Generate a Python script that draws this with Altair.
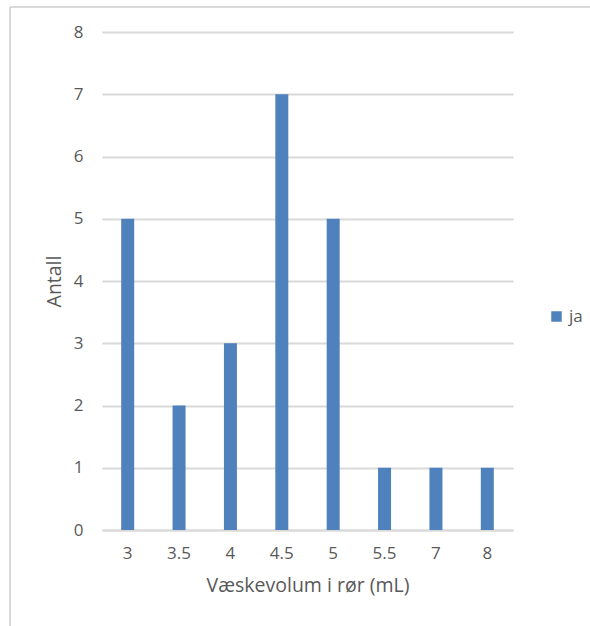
import altair as alt
import pandas as pd

# Fluid volume per tube (mL) and count of tubes
volumes = ["3", "3.5", "4", "4.5", "5", "5.5", "7", "8"]
counts = [5, 2, 3, 7, 5, 1, 1, 1]
series = ["ja"] * len(volumes)
y_ticks = [0, 1, 2, 3, 4, 5, 6, 7, 8]

df = pd.DataFrame({"volum": volumes, "antall": counts, "serie": series})

FONT = "Open Sans"
TEXT = "#595959"
GRID = "#D9D9D9"
BLUE = "#4F81BD"

bars = alt.Chart(df).mark_bar(size=13).encode(
    x=alt.X(
        "volum:N",
        sort=volumes,
        scale=alt.Scale(paddingInner=0, paddingOuter=0),
        axis=alt.Axis(
            title="Væskevolum i rør (mL)",
            labelAngle=0,
            labelPadding=15,
            titlePadding=15,
            ticks=False,
            domainColor=GRID,
            domainWidth=2,
        ),
    ),
    y=alt.Y(
        "antall:Q",
        scale=alt.Scale(domain=[0, 8], nice=False),
        axis=alt.Axis(
            title="Antall",
            values=y_ticks,
            labelOverlap=False,
            ticks=False,
            domain=False,
            labelPadding=19,
            titlePadding=9,
            gridColor=GRID,
            gridWidth=2,
        ),
    ),
    color=alt.Color(
        "serie:N",
        scale=alt.Scale(domain=["ja"], range=[BLUE]),
        legend=alt.Legend(
            title=None,
            orient="none",
            legendX=446,
            legendY=276,
            symbolType="square",
            symbolSize=110,
            symbolStrokeWidth=0,
            labelFontSize=17,
            labelColor=TEXT,
            labelFont=FONT,
        ),
    ),
)

# Outer frame of the chart (top and left edges)
frame_top = alt.Chart(df).mark_rule(color=GRID, strokeWidth=2).encode(
    x=alt.value(-92), x2=alt.value(600), y=alt.value(-25)
)
frame_left = alt.Chart(df).mark_rule(color=GRID, strokeWidth=2).encode(
    x=alt.value(-92), y=alt.value(-25), y2=alt.value(700)
)

chart = (
    alt.layer(bars, frame_top, frame_left)
    .properties(
        width=411,
        height=498,
        autosize=alt.AutoSizeParams(type="none"),
        padding={"left": 102, "top": 32, "right": 77, "bottom": 96},
    )
    .configure_view(stroke=None)
    .configure_axis(
        labelFont=FONT,
        titleFont=FONT,
        labelFontSize=17,
        titleFontSize=19.5,
        labelColor=TEXT,
        titleColor=TEXT,
        titleFontWeight="normal",
    )
)

chart.save("out.html", embed_options={"renderer": "svg", "actions": False})
